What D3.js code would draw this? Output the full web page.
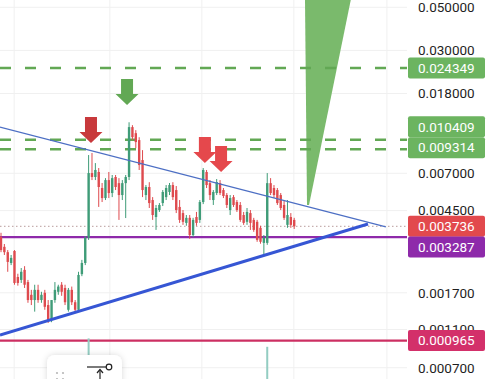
<!DOCTYPE html>
<html>
<head>
<meta charset="utf-8">
<script src="https://cdn.jsdelivr.net/npm/d3@7"></script>
<style>
  html, body { margin: 0; padding: 0; background: #fff; }
  svg { display: block; font-family: Roboto, "Noto Sans", sans-serif; }
</style>
</head>
<body>
<svg id="chart" width="500" height="379"></svg>
<script>
"use strict";

// candle prices, one entry per bar
const opens = [
  0.00329, 0.00293, 0.00275, 0.00242, 0.00279, 0.00205, 0.00198, 0.00223, 0.00193, 0.00166,
  0.00156, 0.00176, 0.00156, 0.00170, 0.00147, 0.00123, 0.00156, 0.00172, 0.00187, 0.00180,
  0.00139, 0.00176, 0.00152, 0.00139, 0.00212, 0.00242, 0.00326, 0.00702, 0.00670, 0.00711,
  0.00588, 0.00522, 0.00646, 0.00554, 0.00670, 0.00623, 0.00541, 0.00623, 0.00670, 0.01210,
  0.01126, 0.01037, 0.00819, 0.00541, 0.00595, 0.00510, 0.00417, 0.00453, 0.00492, 0.00528,
  0.00561, 0.00609, 0.00574, 0.00470, 0.00437, 0.00389, 0.00413, 0.00337, 0.00417, 0.00403,
  0.00498, 0.00711, 0.00623, 0.00510, 0.00554, 0.00623, 0.00574, 0.00541, 0.00453, 0.00528,
  0.00498, 0.00481, 0.00427, 0.00394, 0.00437, 0.00403, 0.00394, 0.00367, 0.00307, 0.00307,
  0.00623, 0.00588, 0.00574, 0.00541, 0.00481, 0.00380, 0.00417, 0.00403
];
const highs = [
  0.00346, 0.00303, 0.00282, 0.00266, 0.00282, 0.00213, 0.00228, 0.00233, 0.00198, 0.00176,
  0.00187, 0.00187, 0.00172, 0.00176, 0.00156, 0.00156, 0.00193, 0.00187, 0.00193, 0.00187,
  0.00180, 0.00183, 0.00156, 0.00218, 0.00251, 0.00333, 0.00869, 0.00890, 0.00790, 0.00745,
  0.00624, 0.00661, 0.00711, 0.00686, 0.00686, 0.00661, 0.00646, 0.00686, 0.01281, 0.01238,
  0.01167, 0.01073, 0.00921, 0.00609, 0.00630, 0.00528, 0.00481, 0.00492, 0.00574, 0.00609,
  0.00624, 0.00630, 0.00602, 0.00510, 0.00453, 0.00427, 0.00427, 0.00413, 0.00443, 0.00510,
  0.00745, 0.00728, 0.00646, 0.00574, 0.00654, 0.00646, 0.00588, 0.00554, 0.00541, 0.00541,
  0.00510, 0.00498, 0.00443, 0.00464, 0.00453, 0.00413, 0.00403, 0.00376, 0.00337, 0.00702,
  0.00661, 0.00609, 0.00588, 0.00554, 0.00510, 0.00510, 0.00437, 0.00413
];
const lows = [
  0.00275, 0.00266, 0.00218, 0.00236, 0.00187, 0.00185, 0.00191, 0.00180, 0.00151, 0.00147,
  0.00136, 0.00151, 0.00151, 0.00139, 0.00119, 0.00120, 0.00151, 0.00166, 0.00164, 0.00147,
  0.00136, 0.00147, 0.00136, 0.00137, 0.00207, 0.00236, 0.00318, 0.00646, 0.00646, 0.00470,
  0.00498, 0.00510, 0.00522, 0.00528, 0.00574, 0.00403, 0.00510, 0.00412, 0.00646, 0.01037,
  0.00943, 0.00728, 0.00528, 0.00510, 0.00464, 0.00403, 0.00358, 0.00443, 0.00475, 0.00510,
  0.00541, 0.00510, 0.00437, 0.00389, 0.00380, 0.00376, 0.00322, 0.00329, 0.00376, 0.00389,
  0.00486, 0.00588, 0.00510, 0.00481, 0.00541, 0.00541, 0.00522, 0.00464, 0.00427, 0.00470,
  0.00443, 0.00394, 0.00380, 0.00380, 0.00358, 0.00350, 0.00311, 0.00304, 0.00266, 0.00300,
  0.00541, 0.00522, 0.00481, 0.00453, 0.00403, 0.00367, 0.00367, 0.00362
];
const closes = [
  0.00282, 0.00275, 0.00245, 0.00257, 0.00191, 0.00191, 0.00218, 0.00187, 0.00156, 0.00156,
  0.00176, 0.00156, 0.00166, 0.00144, 0.00123, 0.00156, 0.00176, 0.00183, 0.00172, 0.00152,
  0.00176, 0.00152, 0.00139, 0.00210, 0.00242, 0.00326, 0.00702, 0.00670, 0.00728, 0.00595,
  0.00522, 0.00646, 0.00554, 0.00661, 0.00595, 0.00541, 0.00623, 0.00670, 0.01210, 0.01074,
  0.01013, 0.00772, 0.00574, 0.00595, 0.00492, 0.00427, 0.00464, 0.00481, 0.00561, 0.00588,
  0.00609, 0.00528, 0.00453, 0.00403, 0.00394, 0.00413, 0.00337, 0.00403, 0.00389, 0.00498,
  0.00728, 0.00609, 0.00541, 0.00561, 0.00631, 0.00554, 0.00535, 0.00481, 0.00522, 0.00481,
  0.00453, 0.00403, 0.00389, 0.00443, 0.00389, 0.00358, 0.00318, 0.00311, 0.00326, 0.00623,
  0.00554, 0.00541, 0.00492, 0.00464, 0.00413, 0.00427, 0.00380, 0.003736
];

// volume spikes that poke out below the price pane
const volumes = [{ i: 26, v: 88 }, { i: 79, v: 76 }];

const axisTicks = [0.05, 0.03, 0.018, 0.007, 0.0045, 0.0017, 0.0011, 0.0007];
const timeGrid = [3.9, 32.3, 59.6, 86.9, 114.5];

// horizontal levels drawn on the chart
const targets = [0.024349, 0.010409, 0.009314];
const lastPrice = 0.003736;
const support = 0.003287;
const deepSupport = 0.000965;

// trend lines: [barIndex, price]
const upperTrend = [[-0.3, 0.01211], [114.2, 0.003707]];
const lowerTrend = [[-0.3, 0.001031], [108.9, 0.00384]];

// projected breakout wedge
const wedge = [[90.2, 0.0558], [103.9, 0.0558], [91.4, 0.00481], [90.8, 0.00481]];

// signal arrows: bar index, price at the arrow tip
const sellArrows = [{ i: 26.7, p: 0.01001, c: "#c8393c" }, { i: 60.5, p: 0.0079, c: "#e5484c" }, { i: 65.3, p: 0.00711, c: "#e5484c" }];
const buyArrows = [{ i: 37.4, p: 0.01572 }];

// price tags on the right scale
const tags = [
  { p: 0.024349, text: "0.024349", c: "#6cb460" },
  { p: 0.010409, text: "0.010409", c: "#6cb460" },
  { p: 0.009314, text: "0.009314", c: "#6cb460" },
  { p: 0.003736, text: "0.003736", c: "#e2494d" },
  { p: 0.003287, text: "0.003287", c: "#8e2aaa" },
  { p: 0.000965, text: "0.000965", c: "#d3306a" }
];
// vertical nudges the scale applies so tags don't overlap
const tagNudge = { "0.010409": -13, "0.009314": -1.5, "0.003287": 10 };

const W = 500, H = 379, paneRight = 407;
const up = "#3f9c78", down = "#de4a4e";

const svg = d3.select("#chart");

const x = d3.scaleLinear().domain([0, 87]).range([1, 294.2]);
const y = d3.scaleLog().domain([0.05, 0.0007]).range([7.3, 367.7]);
const vol = d3.scaleLinear().domain([0, 100]).range([400, 330]);

const defs = svg.append("defs");
defs.append("clipPath").attr("id", "pane")
  .append("rect").attr("x", 0).attr("y", 0).attr("width", paneRight).attr("height", H);
const sh = defs.append("filter").attr("id", "shadow").attr("x", "-30%").attr("y", "-30%").attr("width", "160%").attr("height", "160%");
sh.append("feDropShadow").attr("dx", 0).attr("dy", 0).attr("stdDeviation", 3).attr("flood-color", "#000").attr("flood-opacity", 0.15);

// grid
const grid = svg.append("g");
grid.selectAll("line.h").data(axisTicks).join("line")
  .attr("x1", 0).attr("x2", paneRight)
  .attr("y1", d => y(d)).attr("y2", d => y(d))
  .attr("stroke", "#f0f0f0").attr("stroke-width", 1);
grid.selectAll("line.v").data(timeGrid).join("line")
  .attr("x1", d => x(d)).attr("x2", d => x(d))
  .attr("y1", 0).attr("y2", H)
  .attr("stroke", "#f0f0f0").attr("stroke-width", 1);

const pane = svg.append("g").attr("clip-path", "url(#pane)");

// wedge
pane.append("path")
  .attr("d", d3.line().x(d => x(d[0])).y(d => y(d[1]))(wedge) + "Z")
  .attr("fill", "#7aba6c");

// levels
pane.selectAll("line.target").data(targets).join("line")
  .attr("x1", 0).attr("x2", paneRight + 4)
  .attr("y1", d => y(d)).attr("y2", d => y(d))
  .attr("stroke", "#62a854").attr("stroke-width", 2.4)
  .attr("stroke-dasharray", "11 14");

pane.append("line")
  .attr("x1", 0).attr("x2", paneRight)
  .attr("y1", y(lastPrice)).attr("y2", y(lastPrice))
  .attr("stroke", "#b89c9c").attr("stroke-width", 1)
  .attr("stroke-dasharray", "1.5 2.5");

pane.append("line")
  .attr("x1", 0).attr("x2", paneRight)
  .attr("y1", y(support)).attr("y2", y(support))
  .attr("stroke", "#8e2aaa").attr("stroke-width", 2.4);

pane.append("line")
  .attr("x1", 0).attr("x2", paneRight)
  .attr("y1", y(deepSupport)).attr("y2", y(deepSupport))
  .attr("stroke", "#cc2f62").attr("stroke-width", 2.4);

// volume
pane.selectAll("rect.vol").data(volumes).join("rect")
  .attr("x", d => x(d.i) - 1).attr("width", 2)
  .attr("y", d => vol(d.v)).attr("height", d => vol(0) - vol(d.v))
  .attr("fill", "#93cdc2");

// candles
const bars = d3.range(opens.length);
const candle = pane.append("g");
candle.selectAll("line").data(bars).join("line")
  .attr("x1", i => x(i)).attr("x2", i => x(i))
  .attr("y1", i => y(highs[i])).attr("y2", i => y(lows[i]))
  .attr("stroke", i => closes[i] >= opens[i] ? up : down)
  .attr("stroke-width", 1);
candle.selectAll("rect").data(bars).join("rect")
  .attr("x", i => x(i) - 1.2).attr("width", 2.4)
  .attr("y", i => y(Math.max(opens[i], closes[i])))
  .attr("height", i => Math.max(1, Math.abs(y(opens[i]) - y(closes[i]))))
  .attr("fill", i => closes[i] >= opens[i] ? up : down);

// trend lines
const tl = d3.line().x(d => x(d[0])).y(d => y(d[1]));
pane.append("path").attr("d", tl(upperTrend))
  .attr("fill", "none").attr("stroke", "#4d6fc4").attr("stroke-width", 1.3);
pane.append("path").attr("d", tl(lowerTrend))
  .attr("fill", "none").attr("stroke", "#3656d4").attr("stroke-width", 3);

// arrows (tip at 0,0 pointing down)
const arrow = "M0,0L-11.5,-11L-6,-11L-6,-26L6,-26L6,-11L11.5,-11Z";
pane.selectAll("path.sell").data(sellArrows).join("path")
  .attr("d", arrow)
  .attr("transform", d => `translate(${x(d.i)},${y(d.p)})`)
  .attr("fill", d => d.c);
pane.selectAll("path.buy").data(buyArrows).join("path")
  .attr("d", arrow)
  .attr("transform", d => `translate(${x(d.i)},${y(d.p)})`)
  .attr("fill", "#62a854");

// right price scale
const axis = svg.append("g").attr("transform", `translate(${paneRight},0)`)
  .call(d3.axisRight(y).tickValues(axisTicks).tickFormat(d3.format(".6f")).tickSize(0).tickPadding(11));
axis.select(".domain").remove();
axis.selectAll("text")
  .attr("font-family", "Roboto, sans-serif")
  .attr("font-size", 13.5)
  .attr("fill", "#1f1f1f");

const tagG = svg.append("g");
tags.forEach(t => {
  const cy = y(t.p) + (tagNudge[t.text] || 0);
  tagG.append("rect")
    .attr("x", paneRight + 1).attr("y", cy - 10.5)
    .attr("width", 77).attr("height", 21).attr("rx", 2)
    .attr("fill", t.c);
  tagG.append("text")
    .attr("x", paneRight + 11).attr("y", cy)
    .attr("dy", "0.35em")
    .attr("font-size", 13.5).attr("fill", "#fff")
    .text(t.text);
});

// floating drawing toolbar
const tb = svg.append("g");
tb.append("rect").attr("x", 47).attr("y", 355).attr("width", 75).attr("height", 40).attr("rx", 8)
  .attr("fill", "#fff").attr("filter", "url(#shadow)");
[[57, 373], [63, 373], [57, 379], [63, 379]].forEach(p => {
  tb.append("circle").attr("cx", p[0]).attr("cy", p[1]).attr("r", 1.1).attr("fill", "#b8b8b8");
});
tb.append("line").attr("x1", 87).attr("x2", 106).attr("y1", 367).attr("y2", 367).attr("stroke", "#222").attr("stroke-width", 1.2);
tb.append("circle").attr("cx", 109).attr("cy", 367).attr("r", 2.8).attr("fill", "#fff").attr("stroke", "#222").attr("stroke-width", 1.2);
tb.append("line").attr("x1", 100).attr("x2", 100).attr("y1", 371).attr("y2", 380).attr("stroke", "#222").attr("stroke-width", 1.2);
tb.append("path").attr("d", "M97,373L100,369.5L103,373").attr("fill", "none").attr("stroke", "#222").attr("stroke-width", 1.2);
</script>
</body>
</html>
